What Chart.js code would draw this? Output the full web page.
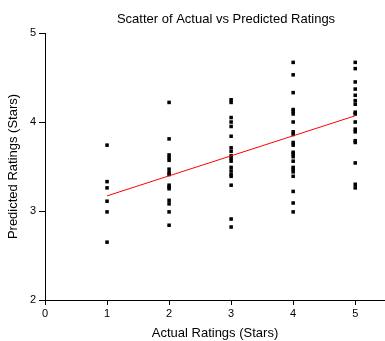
<!DOCTYPE html>
<html>
<head>
<meta charset="utf-8">
<script src="https://cdn.jsdelivr.net/npm/chart.js@4"></script>
<style>
html,body{margin:0;padding:0;background:#fff;}
#wrap{width:385px;height:341px;position:relative;}
</style>
</head>
<body>
<div id="wrap"><canvas id="c"></canvas></div>
<script>
const titleText = "Scatter of Actual vs Predicted Ratings";
const xTitle = "Actual Ratings (Stars)";
const yTitle = "Predicted Ratings (Stars)";
const actualLevels = [1, 2, 3, 4, 5];
const predicted1 = [3.74, 3.33, 3.26, 3.11, 2.99, 2.65];
const predicted2 = [4.22, 3.81, 3.63, 3.60, 3.57, 3.47, 3.43, 3.41, 3.29, 3.27, 3.25, 3.12, 3.08, 2.99, 2.84];
const predicted3 = [4.25, 4.22, 4.05, 4.00, 3.95, 3.84, 3.71, 3.67, 3.62, 3.59, 3.56, 3.49, 3.45, 3.41, 3.39, 3.29, 2.91, 2.82];
const predicted4 = [4.67, 4.53, 4.33, 4.14, 4.12, 4.09, 4.00, 3.89, 3.86, 3.77, 3.74, 3.66, 3.64, 3.61, 3.56, 3.49, 3.47, 3.44, 3.39, 3.22, 3.09, 2.99];
const predicted5 = [4.67, 4.60, 4.45, 4.37, 4.30, 4.24, 4.20, 4.11, 4.09, 4.00, 3.92, 3.89, 3.79, 3.77, 3.54, 3.30, 3.26];
const fitX = [1, 5];
const fitY = [3.17, 4.07];
const xTicks = [0, 1, 2, 3, 4, 5];
const yTicks = [2, 3, 4, 5];

const groups = [predicted1, predicted2, predicted3, predicted4, predicted5];
const scatterPts = [];
groups.forEach((g, i) => g.forEach(v => scatterPts.push({x: actualLevels[i], y: v})));
const fitPts = fitX.map((x, i) => ({x: x, y: fitY[i]}));

const FONT = '"Liberation Sans", Arial, sans-serif';

const titlePlugin = {
  id: 'customTitle',
  afterDraw(chart) {
    const ctx = chart.ctx;
    ctx.save();
    ctx.font = '13px ' + FONT;
    ctx.fillStyle = '#000';
    ctx.textAlign = 'center';
    ctx.textBaseline = 'middle';
    ctx.fillText(titleText, 226, 19);
    ctx.restore();
  }
};

new Chart(document.getElementById('c'), {
  type: 'scatter',
  data: {
    datasets: [
      {
        type: 'scatter',
        data: scatterPts,
        pointStyle: 'rect',
        pointRadius: 2.5,
        pointHoverRadius: 2.5,
        backgroundColor: '#000',
        borderColor: '#000',
        borderWidth: 0,
        order: 2
      },
      {
        type: 'line',
        data: fitPts,
        borderColor: '#ff0000',
        borderWidth: 1,
        pointRadius: 0,
        fill: false,
        order: 1
      }
    ]
  },
  plugins: [titlePlugin],
  options: {
    responsive: true,
    maintainAspectRatio: false,
    animation: false,
    layout: { autoPadding: false, padding: { top: 33, right: 0, left: 0, bottom: 0 } },
    plugins: {
      legend: { display: false },
      tooltip: { enabled: false },
      title: { display: false }
    },
    scales: {
      x: {
        type: 'linear',
        min: 0,
        max: 5.48,
        afterFit(s) { s.height = 41; },
        afterBuildTicks(s) { s.ticks = xTicks.map(v => ({value: v})); },
        border: { color: '#000', width: 1 },
        grid: { drawOnChartArea: false, color: '#000', tickLength: 5, lineWidth: 1 },
        ticks: { color: '#000', font: { family: FONT, size: 11 }, padding: 2, maxRotation: 0, includeBounds: false },
        title: { display: true, text: xTitle, color: '#000', font: { family: FONT, size: 13 }, padding: { top: -2, bottom: 0 } }
      },
      y: {
        type: 'linear',
        min: 2,
        max: 5,
        afterFit(s) { s.width = 45; },
        afterBuildTicks(s) { s.ticks = yTicks.map(v => ({value: v})); },
        border: { color: '#000', width: 1 },
        grid: { drawOnChartArea: false, color: '#000', tickLength: 6, lineWidth: 1 },
        ticks: { color: '#000', font: { family: FONT, size: 11 }, padding: 3 },
        title: { display: true, text: yTitle, color: '#000', font: { family: FONT, size: 13 }, padding: { top: 6, bottom: 2 } }
      }
    }
  }
});
</script>
</body>
</html>
